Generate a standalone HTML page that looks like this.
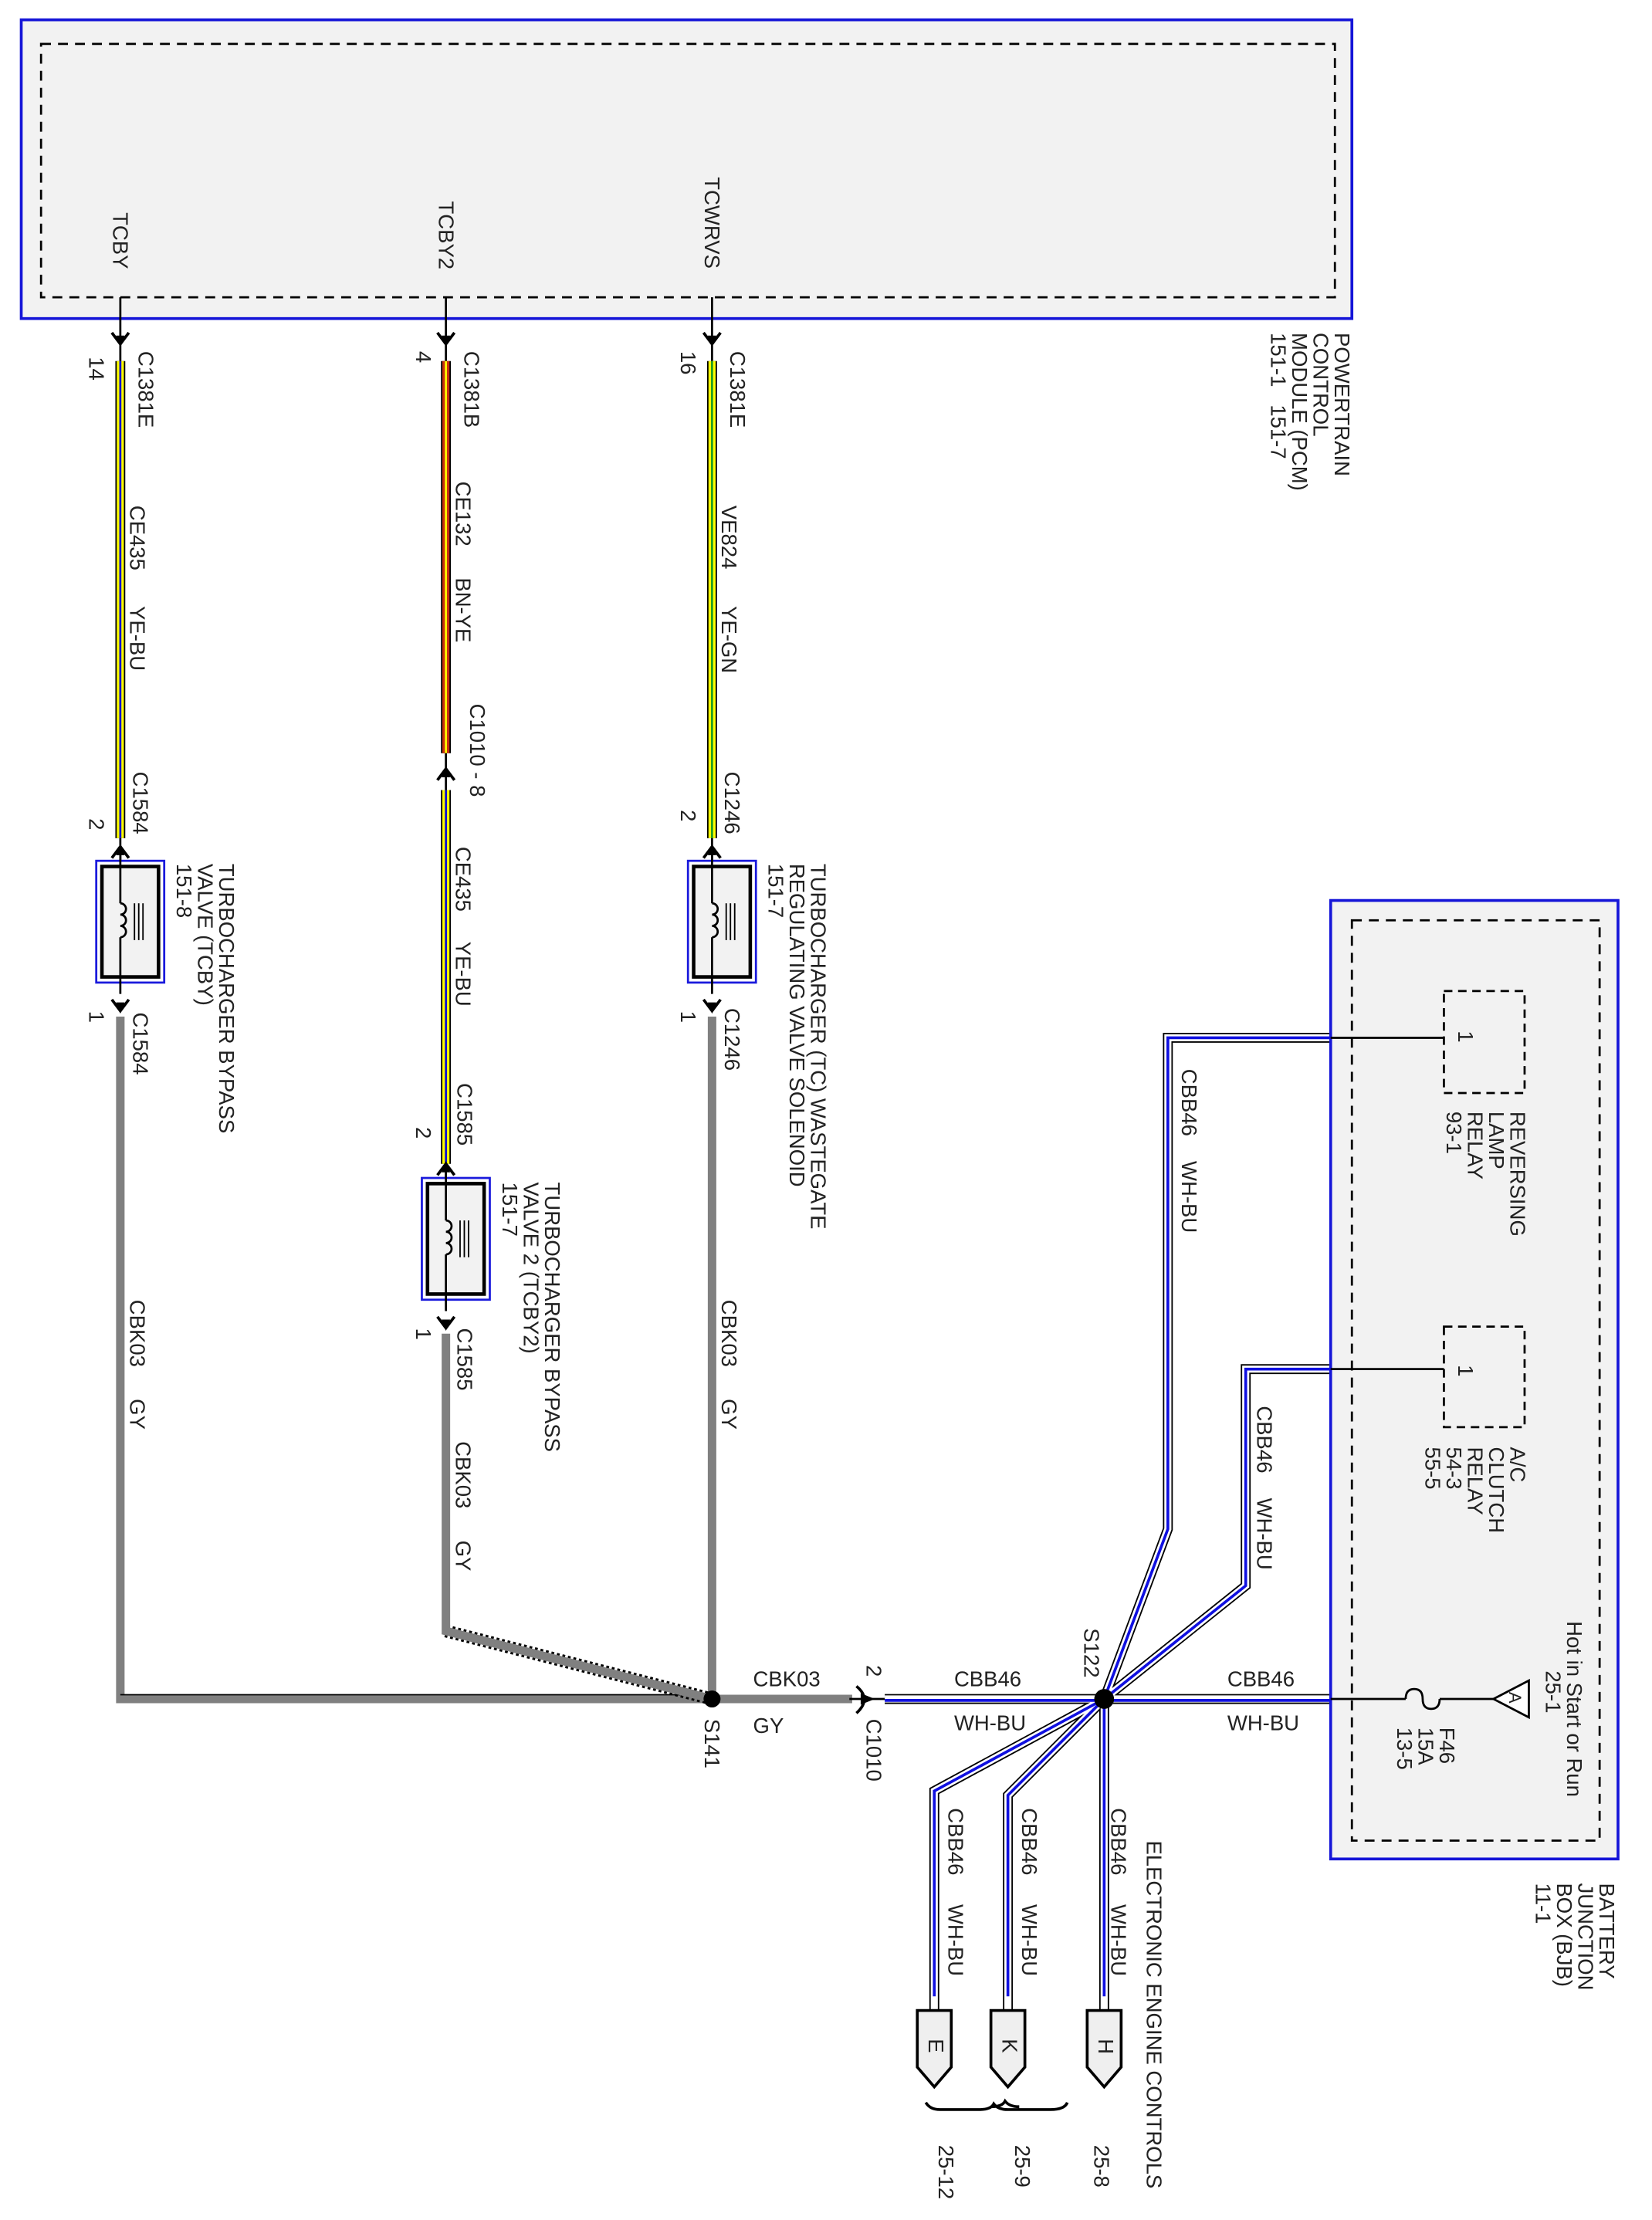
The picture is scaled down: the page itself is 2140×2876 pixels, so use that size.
<!DOCTYPE html>
<html><head><meta charset="utf-8"><style>
html,body{margin:0;padding:0;background:#fff;}
svg{display:block;}
text{font-family:"Liberation Sans",Arial,sans-serif;font-size:15px;fill:#222;}
</style></head><body>
<svg width="2140" height="2876" viewBox="0 0 1167 1568" preserveAspectRatio="none" xmlns="http://www.w3.org/2000/svg">
<defs>
<g id="arrD"><path d="M-6,-6 L0,2 L6,-6" fill="none" stroke="#000" stroke-width="2"/><path d="M-3,-4 L0,4 L3,-4Z" fill="#000"/></g>
<g id="arrU"><path d="M-6,6 L0,-2 L6,6" fill="none" stroke="#000" stroke-width="2"/><path d="M-3,4 L0,-4 L3,4Z" fill="#000"/></g>
<g id="comp">
<rect x="-17" y="0" width="48" height="86" fill="#fff" stroke="#1a1adc" stroke-width="1.5"/>
<rect x="-13" y="4" width="40" height="78" fill="#f2f2f2" stroke="#000" stroke-width="2.5"/>
<line x1="0" y1="-8" x2="0" y2="30" stroke="#000" stroke-width="1.5"/>
<path d="M0,30 a4,4 0 0 1 0,8 a4,4 0 0 1 0,8 a4,4 0 0 1 0,8" fill="none" stroke="#000" stroke-width="1.5"/>
<line x1="0" y1="54" x2="0" y2="94" stroke="#000" stroke-width="1.5"/>
<line x1="10" y1="30" x2="10" y2="56" stroke="#000" stroke-width="1"/>
<line x1="13" y1="30" x2="13" y2="56" stroke="#000" stroke-width="1"/>
<line x1="16" y1="30" x2="16" y2="56" stroke="#000" stroke-width="1"/>
</g>
<g id="pent"><path d="M-12,0 L12,0 L12,40 L0,54 L-12,40Z" fill="#efefef" stroke="#000" stroke-width="2"/></g>
</defs>

<!-- PCM -->
<rect x="15" y="14" width="940" height="211" fill="#f2f2f2" stroke="#1515d8" stroke-width="2"/>
<rect x="29" y="31" width="914" height="179" fill="none" stroke="#000" stroke-width="1.5" stroke-dasharray="7,5"/>
<text transform="translate(80,150) rotate(90)">TCBY</text>
<text transform="translate(310,142) rotate(90)">TCBY2</text>
<text transform="translate(498,125) rotate(90)">TCWRVS</text>
<text transform="translate(943,235) rotate(90)">POWERTRAIN</text>
<text transform="translate(928,235) rotate(90)">CONTROL</text>
<text transform="translate(913,235) rotate(90)">MODULE (PCM)</text>
<text transform="translate(898,235) rotate(90)">151-1&#160;&#160;&#160;151-7</text>

<g stroke="#000" stroke-width="1.5">
<line x1="85" y1="210" x2="85" y2="255"/><line x1="315" y1="210" x2="315" y2="255"/><line x1="503" y1="210" x2="503" y2="255"/>
</g>
<use href="#arrD" x="85" y="241"/><use href="#arrD" x="315" y="241"/><use href="#arrD" x="503" y="241"/>

<!-- wire 1 -->
<line x1="85" y1="255" x2="85" y2="592" stroke="#000" stroke-width="7"/>
<line x1="85" y1="255" x2="85" y2="592" stroke="#ffff00" stroke-width="5"/>
<line x1="85" y1="255" x2="85" y2="592" stroke="#1010d0" stroke-width="1.5"/>
<text transform="translate(63,252) rotate(90)">14</text>
<text transform="translate(98,248) rotate(90)">C1381E</text>
<text transform="translate(92,357) rotate(90)">CE435</text>
<text transform="translate(92,428) rotate(90)">YE-BU</text>
<text transform="translate(94,545) rotate(90)">C1584</text>
<text transform="translate(63,578) rotate(90)">2</text>
<line x1="85" y1="592" x2="85" y2="612" stroke="#000" stroke-width="1.5"/>
<use href="#arrU" x="85" y="600"/>
<use href="#comp" x="85" y="608"/>
<use href="#arrD" x="85" y="712"/>
<text transform="translate(63,714) rotate(90)">1</text>
<text transform="translate(94,715) rotate(90)">C1584</text>
<text transform="translate(155,610) rotate(90)">TURBOCHARGER BYPASS</text>
<text transform="translate(140,610) rotate(90)">VALVE (TCBY)</text>
<text transform="translate(125,610) rotate(90)">151-8</text>
<text transform="translate(92,918) rotate(90)">CBK03</text>
<text transform="translate(92,988) rotate(90)">GY</text>

<!-- wire 2 -->
<line x1="315" y1="255" x2="315" y2="532" stroke="#000" stroke-width="7"/>
<line x1="315" y1="255" x2="315" y2="532" stroke="#c83010" stroke-width="5"/>
<line x1="315" y1="255" x2="315" y2="532" stroke="#ffff00" stroke-width="1.5"/>
<text transform="translate(294,248) rotate(90)">4</text>
<text transform="translate(328,248) rotate(90)">C1381B</text>
<text transform="translate(322,340) rotate(90)">CE132</text>
<text transform="translate(322,408) rotate(90)">BN-YE</text>
<text transform="translate(332,497) rotate(90)">C1010 - 8</text>
<line x1="315" y1="532" x2="315" y2="558" stroke="#000" stroke-width="1.5"/>
<use href="#arrU" x="315" y="545"/>
<line x1="315" y1="558" x2="315" y2="822" stroke="#000" stroke-width="7"/>
<line x1="315" y1="558" x2="315" y2="822" stroke="#ffff00" stroke-width="5"/>
<line x1="315" y1="558" x2="315" y2="822" stroke="#1010d0" stroke-width="1.5"/>
<text transform="translate(322,598) rotate(90)">CE435</text>
<text transform="translate(322,665) rotate(90)">YE-BU</text>
<text transform="translate(323,765) rotate(90)">C1585</text>
<text transform="translate(294,796) rotate(90)">2</text>
<line x1="315" y1="822" x2="315" y2="836" stroke="#000" stroke-width="1.5"/>
<use href="#arrU" x="315" y="824"/>
<use href="#comp" x="315" y="832"/>
<use href="#arrD" x="315" y="936"/>
<text transform="translate(294,938) rotate(90)">1</text>
<text transform="translate(323,938) rotate(90)">C1585</text>
<text transform="translate(385,835) rotate(90)">TURBOCHARGER BYPASS</text>
<text transform="translate(370,835) rotate(90)">VALVE 2 (TCBY2)</text>
<text transform="translate(355,835) rotate(90)">151-7</text>
<text transform="translate(322,1018) rotate(90)">CBK03</text>
<text transform="translate(322,1088) rotate(90)">GY</text>

<!-- wire 3 -->
<line x1="503" y1="255" x2="503" y2="592" stroke="#000" stroke-width="7"/>
<line x1="503" y1="255" x2="503" y2="592" stroke="#ffff00" stroke-width="5"/>
<line x1="503" y1="255" x2="503" y2="592" stroke="#20a020" stroke-width="1.5"/>
<text transform="translate(481,248) rotate(90)">16</text>
<text transform="translate(516,248) rotate(90)">C1381E</text>
<text transform="translate(510,357) rotate(90)">VE824</text>
<text transform="translate(510,428) rotate(90)">YE-GN</text>
<text transform="translate(512,545) rotate(90)">C1246</text>
<text transform="translate(481,572) rotate(90)">2</text>
<line x1="503" y1="592" x2="503" y2="612" stroke="#000" stroke-width="1.5"/>
<use href="#arrU" x="503" y="600"/>
<use href="#comp" x="503" y="608"/>
<use href="#arrD" x="503" y="712"/>
<text transform="translate(481,714) rotate(90)">1</text>
<text transform="translate(512,712) rotate(90)">C1246</text>
<text transform="translate(573,610) rotate(90)">TURBOCHARGER (TC) WASTEGATE</text>
<text transform="translate(558,610) rotate(90)">REGULATING VALVE SOLENOID</text>
<text transform="translate(543,610) rotate(90)">151-7</text>
<text transform="translate(510,918) rotate(90)">CBK03</text>
<text transform="translate(510,988) rotate(90)">GY</text>

<!-- gray wires -->
<g fill="none" stroke="#808080" stroke-width="6" stroke-linejoin="miter">
<polyline points="85,718 85,1200 503,1200"/>
<line x1="503" y1="718" x2="503" y2="1200"/>
<line x1="503" y1="1200" x2="602" y2="1200"/>
</g>
<line x1="85" y1="1197" x2="500" y2="1197" stroke="#000" stroke-width="1"/>
<line x1="315" y1="1152" x2="503" y2="1200" stroke="#000" stroke-width="9" stroke-dasharray="2,2"/>
<polyline points="315,942 315,1152 503,1200" fill="none" stroke="#808080" stroke-width="6" stroke-linejoin="miter"/>
<circle cx="503" cy="1200" r="6" fill="#000"/>
<text transform="translate(498,1214) rotate(90)">S141</text>
<text x="532" y="1191">CBK03</text>
<text x="532" y="1224">GY</text>
<line x1="600" y1="1200" x2="625" y2="1200" stroke="#000" stroke-width="1.5"/>
<path d="M605,1191 Q616,1200 605,1210" fill="none" stroke="#000" stroke-width="2"/>
<path d="M608,1196 L618,1200 L608,1204Z" fill="#000"/>
<text transform="translate(612,1176) rotate(90)">2</text>
<text transform="translate(612,1214) rotate(90)">C1010</text>

<!-- WH-BU wires -->
<g fill="none" stroke-linejoin="miter">
<g stroke="#000" stroke-width="7">
<line x1="625" y1="1200" x2="940" y2="1200"/>
<polyline points="780,1200 825,1080 825,733 940,733"/>
<polyline points="780,1200 880,1120 880,967 940,967"/>
<polyline points="780,1200 660,1265 660,1420"/>
<polyline points="780,1200 712,1268 712,1420"/>
<line x1="780" y1="1200" x2="780" y2="1420"/>
</g>
<g stroke="#fff" stroke-width="5">
<line x1="625" y1="1200" x2="940" y2="1200"/>
<polyline points="780,1200 825,1080 825,733 940,733"/>
<polyline points="780,1200 880,1120 880,967 940,967"/>
<polyline points="780,1200 660,1265 660,1420"/>
<polyline points="780,1200 712,1268 712,1420"/>
<line x1="780" y1="1200" x2="780" y2="1420"/>
</g>
<g stroke="#1010e0" stroke-width="2">
<line x1="625" y1="1201" x2="940" y2="1201"/>
<polyline points="780,1200 825,1080 825,733 940,733"/>
<polyline points="780,1200 880,1120 880,967 940,967"/>
<polyline points="780,1200 660,1265 660,1410"/>
<polyline points="780,1200 712,1268 712,1410"/>
<line x1="780" y1="1200" x2="780" y2="1410"/>
</g>
</g>
<circle cx="780" cy="1200" r="7" fill="#000"/>
<text transform="translate(766,1150) rotate(90)">S122</text>
<text x="674" y="1191">CBB46</text>
<text x="674" y="1222">WH-BU</text>
<text x="867" y="1191">CBB46</text>
<text x="867" y="1222">WH-BU</text>
<text transform="translate(835,755) rotate(90)">CBB46</text>
<text transform="translate(835,820) rotate(90)">WH-BU</text>
<text transform="translate(888,993) rotate(90)">CBB46</text>
<text transform="translate(888,1058) rotate(90)">WH-BU</text>

<!-- BJB -->
<rect x="940" y="636" width="203" height="677" fill="#f2f2f2" stroke="#1515d8" stroke-width="2"/>
<rect x="955" y="650" width="175" height="650" fill="none" stroke="#000" stroke-width="1.5" stroke-dasharray="7,5"/>
<g stroke="#000" stroke-width="1.5">
<line x1="940" y1="733" x2="1020" y2="733"/>
<line x1="940" y1="967" x2="1020" y2="967"/>
<line x1="940" y1="1200" x2="993" y2="1200"/>
<line x1="1017" y1="1200" x2="1055" y2="1200"/>
</g>
<path d="M993,1200 q0,-7 6,-7 q6,0 6,7 q0,7 6,7 q6,0 6,-7" fill="none" stroke="#000" stroke-width="1.5"/>
<path d="M1055,1200 L1080,1187 L1080,1213Z" fill="#fff" stroke="#000" stroke-width="1.5"/>
<text transform="translate(1066,1195) rotate(90)" style="font-size:12px">A</text>
<text transform="translate(1107,1145) rotate(90)">Hot in Start or Run</text>
<text transform="translate(1092,1180) rotate(90)">25-1</text>
<text transform="translate(1017,1220) rotate(90)">F46</text>
<text transform="translate(1002,1220) rotate(90)">15A</text>
<text transform="translate(987,1220) rotate(90)">13-5</text>
<rect x="1020" y="700" width="57" height="72" fill="none" stroke="#000" stroke-width="1.5" stroke-dasharray="6,4"/>
<text transform="translate(1030,728) rotate(90)">1</text>
<text transform="translate(1067,785) rotate(90)">REVERSING</text>
<text transform="translate(1052,785) rotate(90)">LAMP</text>
<text transform="translate(1037,785) rotate(90)">RELAY</text>
<text transform="translate(1022,785) rotate(90)">93-1</text>
<rect x="1020" y="937" width="57" height="71" fill="none" stroke="#000" stroke-width="1.5" stroke-dasharray="6,4"/>
<text transform="translate(1030,964) rotate(90)">1</text>
<text transform="translate(1067,1022) rotate(90)">A/C</text>
<text transform="translate(1052,1022) rotate(90)">CLUTCH</text>
<text transform="translate(1037,1022) rotate(90)">RELAY</text>
<text transform="translate(1022,1022) rotate(90)">54-3</text>
<text transform="translate(1007,1022) rotate(90)">55-5</text>
<text transform="translate(1130,1330) rotate(90)">BATTERY</text>
<text transform="translate(1115,1330) rotate(90)">JUNCTION</text>
<text transform="translate(1100,1330) rotate(90)">BOX (BJB)</text>
<text transform="translate(1085,1330) rotate(90)">11-1</text>

<!-- lower connectors -->
<text transform="translate(670,1277) rotate(90)">CBB46</text>
<text transform="translate(670,1345) rotate(90)">WH-BU</text>
<text transform="translate(722,1277) rotate(90)">CBB46</text>
<text transform="translate(722,1345) rotate(90)">WH-BU</text>
<text transform="translate(785,1277) rotate(90)">CBB46</text>
<text transform="translate(785,1345) rotate(90)">WH-BU</text>
<use href="#pent" x="660" y="1420"/><use href="#pent" x="712" y="1420"/><use href="#pent" x="780" y="1420"/>
<text transform="translate(656,1440) rotate(90)">E</text>
<text transform="translate(708,1440) rotate(90)">K</text>
<text transform="translate(776,1440) rotate(90)">H</text>
<path d="M654,1485 q3,5 10,5 h28 q8,0 10,-4 q3,4 10,4 h30 q10,0 12,-5 M700,1488 q8,0 10,-4 q3,4 10,4" fill="none" stroke="#000" stroke-width="2"/>
<text transform="translate(663,1515) rotate(90)">25-12</text>
<text transform="translate(717,1515) rotate(90)">25-9</text>
<text transform="translate(773,1515) rotate(90)">25-8</text>
<text transform="translate(810,1300) rotate(90)">ELECTRONIC ENGINE CONTROLS</text>
</svg>
</body></html>
